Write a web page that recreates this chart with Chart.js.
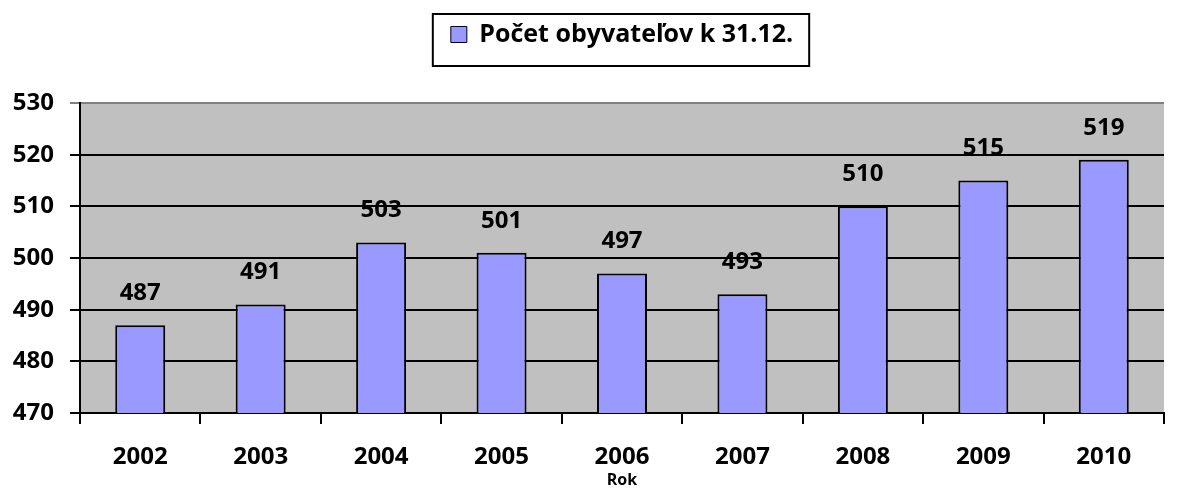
<!DOCTYPE html>
<html>
<head>
<meta charset="utf-8">
<script src="https://cdn.jsdelivr.net/npm/chart.js@4/dist/chart.umd.min.js"></script>
<style>
  html, body { margin: 0; padding: 0; background: #fff; }
  #wrap { width: 1177px; height: 491px; }
</style>
</head>
<body>
<div id="wrap"><canvas id="myBarChart"></canvas></div>
<script>
var years = ['2002', '2003', '2004', '2005', '2006', '2007', '2008', '2009', '2010'];
var population = [487, 491, 503, 501, 497, 493, 510, 515, 519];
var yTicks = [470, 480, 490, 500, 510, 520, 530];

var fontFamily = '"Open Sans", "Noto Sans", sans-serif';

// gray plot background
var plotBg = {
  id: 'plotBg',
  beforeDraw: function (chart) {
    var a = chart.chartArea, c = chart.ctx;
    c.save();
    c.fillStyle = '#C0C0C0';
    c.fillRect(a.left, a.top, a.right - a.left, a.bottom - a.top);
    c.restore();
  }
};

// values above bars, frame round the legend, taller legend block
var extras = {
  id: 'extras',
  afterInit: function (chart) {
    var lg = chart.legend;
    var fit = lg.fit;
    lg.fit = function () {
      fit.call(this);
      this.height = 99;
    };
  },
  afterDatasetsDraw: function (chart) {
    var c = chart.ctx;
    var meta = chart.getDatasetMeta(0);
    c.save();
    c.fillStyle = '#000';
    c.font = 'bold 24px ' + fontFamily;
    c.textAlign = 'center';
    c.textBaseline = 'middle';
    meta.data.forEach(function (bar, i) {
      c.fillText(population[i], bar.x, bar.y - 32);
    });
    c.restore();
  },
  afterDraw: function (chart) {
    var hb = chart.legend.legendHitBoxes[0];
    if (!hb) return;
    var c = chart.ctx;
    c.save();
    c.strokeStyle = '#000';
    c.lineWidth = 2;
    c.strokeRect(hb.left - 18, hb.top - 8, hb.width + 34, 52);
    c.restore();
  }
};

var data = {
  labels: years,
  datasets: [{
    label: 'Počet obyvateľov k 31.12.',
    data: population,
    backgroundColor: '#9999FF',
    borderColor: '#000',
    borderWidth: 2,
    categoryPercentage: 1,
    barPercentage: 0.415
  }]
};

var options = {
  responsive: true,
  maintainAspectRatio: false,
  animation: false,
  layout: { padding: { left: 8, right: 13, top: 4, bottom: 0 } },
  scales: {
    x: {
      grid: {
        offset: true,
        drawOnChartArea: false,
        color: '#000',
        lineWidth: 2,
        tickLength: 11
      },
      border: { color: '#000', width: 2 },
      ticks: {
        color: '#000',
        padding: 19,
        font: { family: fontFamily, size: 24, weight: 'bold' }
      },
      title: {
        display: true,
        text: 'Rok',
        color: '#000',
        padding: { top: 0, bottom: 1 },
        font: { family: fontFamily, size: 16, weight: 'bold' }
      },
      afterFit: function (scale) { scale.height = 78; }
    },
    y: {
      min: 470,
      max: 530,
      afterBuildTicks: function (scale) {
        scale.ticks = yTicks.map(function (v) { return { value: v }; });
      },
      grid: {
        color: function (ctx) { return ctx.tick && ctx.tick.value === 530 ? '#808080' : '#000'; },
        lineWidth: 2,
        tickLength: 10
      },
      border: { color: '#000', width: 2 },
      ticks: {
        color: '#000',
        padding: 16,
        font: { family: fontFamily, size: 24, weight: 'bold' }
      },
      afterFit: function (scale) { scale.width = 72; }
    }
  },
  plugins: {
    legend: {
      display: true,
      position: 'top',
      fullSize: false,
      labels: {
        color: '#000',
        boxWidth: 16,
        boxHeight: 16,
        padding: 18,
        font: { family: fontFamily, size: 25, weight: 'bold' },
        generateLabels: function (chart) {
          return [{
            text: data.datasets[0].label,
            fillStyle: '#9999FF',
            strokeStyle: '#000',
            lineWidth: 1,
            datasetIndex: 0
          }];
        }
      }
    },
    tooltip: { enabled: false }
  }
};

var ctx = document.getElementById('myBarChart').getContext('2d');
var myBarChart = new Chart(ctx, {
  type: 'bar',
  data: data,
  options: options,
  plugins: [plotBg, extras]
});
</script>
</body>
</html>
